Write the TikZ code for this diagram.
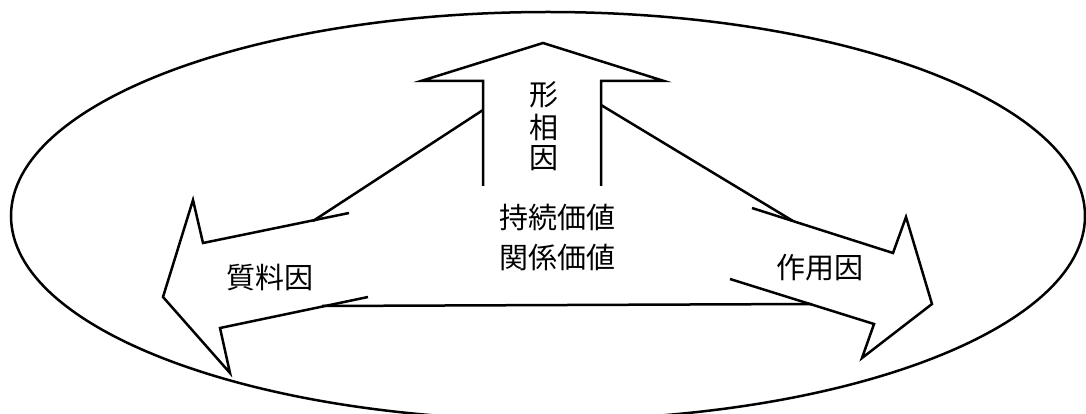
\documentclass[tikz,border=0pt]{standalone}
\usepackage{fontspec}
\newfontfamily\jpfont{Noto Sans CJK JP}
\begin{document}
\begin{tikzpicture}[x=1pt,y=-1pt,
  outline/.style={draw=black,line width=2.5pt,line join=miter},
  lbl/.style={font=\jpfont\fontsize{29}{40}\selectfont,inner sep=0pt,align=center}]
\useasboundingbox (0,0) rectangle (1086,414);
\begin{scope}
\clip (0,0) rectangle (1086,414);
\draw[outline] (548,216) ellipse [x radius=537, y radius=204];
\end{scope}
% up arrow
\draw[outline] (483,186) -- (483,81) -- (421,81) -- (543,43) -- (664,81) -- (601,81) -- (601,186);
% diagonals
\draw[outline] (483,110) -- (313,221);
\draw[outline] (601,105) -- (793,221);
% bottom line
\draw[outline] (322,306) -- (812,304);
% left head
\draw[outline] (349,213) -- (203,243) -- (193,200) -- (163,297) -- (230,373) -- (220,328) -- (368,297);
% right head
\draw[outline] (752,208) -- (893,253) -- (906,217) -- (932,304) -- (862,358) -- (874,324) -- (730,279);
% labels
\node[lbl] (kei) at (544,95) {形};
\node[lbl] (sou) at (544,127) {相};
\node[lbl] (in) at (544,158) {因};
\node[lbl] (center) at (557,237) {持続価値\\関係価値};
\node[lbl] (left) at (270,278) {質料因};
\node[lbl] (right) at (820,268) {作用因};
\end{tikzpicture}
\end{document}
